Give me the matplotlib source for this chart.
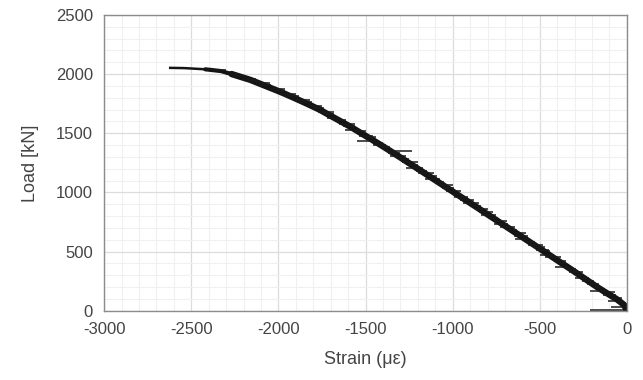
import matplotlib
matplotlib.use("Agg")
import matplotlib.pyplot as plt
from matplotlib.ticker import MultipleLocator

plt.rcParams['font.family'] = ['Liberation Sans', 'DejaVu Sans']
plt.rcParams['axes.unicode_minus'] = False

# main trend of the measured curve (strain in microstrain, load in kN)
trend_strain = [0, -16, -60, -116, -170, -220, -270, -320, -372, -423, -474, -525,
                -577, -629, -681, -733, -785, -836, -888, -940, -992, -1044, -1096,
                -1148, -1200, -1253, -1305, -1358, -1412, -1468, -1525, -1581, -1642,
                -1704, -1765, -1837, -1912, -1990, -2075, -2160, -2269, -2330, -2420,
                -2540, -2621]
trend_load = [0, 50, 100, 150, 200, 250, 300, 350, 400, 450, 500, 550,
              600, 650, 700, 750, 800, 850, 900, 950, 1000, 1050, 1100,
              1150, 1200, 1250, 1300, 1350, 1400, 1450, 1500, 1550, 1600,
              1650, 1700, 1750, 1800, 1850, 1900, 1950, 2000, 2025, 2040,
              2050, 2052]

# scatter of the readings around the trend (horizontal dashes)
spike_load = [5, 30, 80, 130, 170, 230, 280, 330, 370, 420, 470, 510, 560, 610, 660,
              710, 760, 810, 860, 910, 960, 1010, 1060, 1110, 1160, 1210, 1260, 1310,
              1350, 1400, 1438, 1480, 1530, 1580, 1630, 1680, 1730, 1780, 1830, 1870,
              1920, 1960, 2000, 2030,
              55, 105, 155, 205, 255, 305, 355, 405, 455, 505, 535, 585, 635, 685,
              735, 785, 835, 885, 935, 985, 1035, 1085, 1135, 1185, 1235, 1285, 1335,
              1385, 1415, 1465, 1515, 1565, 1615, 1665, 1715, 1765, 1815, 1860, 1910,
              1945, 1985]
spike_left = [-212, -90, -110, -140, -210, -230, -300, -330, -410, -420, -500, -520,
              -570, -640, -650, -730, -760, -840, -870, -940, -990, -1040, -1080,
              -1160, -1200, -1270, -1290, -1360, -1380, -1460, -1550, -1540, -1620,
              -1650, -1720, -1770, -1830, -1900, -1990, -2050, -2130, -2210, -2300,
              -2380,
              -45, -90, -140, -190, -260, -300, -350, -390, -470, -500, -540, -580,
              -650, -690, -760, -790, -850, -900, -960, -1000, -1060, -1100, -1150,
              -1210, -1250, -1310, -1370, -1410, -1450, -1500, -1560, -1630, -1680,
              -1740, -1800, -1880, -1960, -2030, -2110, -2180, -2260]
spike_right = [0, -5, -20, -60, -120, -160, -220, -250, -330, -350, -420, -450,
               -480, -560, -580, -640, -690, -750, -800, -850, -910, -950, -1000,
               -1070, -1110, -1170, -1200, -1270, -1235, -1380, -1440, -1460, -1530,
               -1560, -1650, -1680, -1750, -1820, -1900, -1960, -2050, -2130, -2230,
               -2300,
               10, -30, -70, -150, -190, -250, -290, -350, -380, -440, -470, -530,
               -570, -630, -680, -740, -770, -840, -880, -950, -990, -1050, -1090,
               -1150, -1200, -1250, -1300, -1360, -1400, -1440, -1500, -1560, -1610,
               -1680, -1740, -1810, -1880, -1960, -2040, -2110, -2190]

fig = plt.figure(figsize=(6.43, 3.80), dpi=100)
ax = fig.add_axes([0.162, 0.182, 0.813, 0.779])

# thick band up to the knee, tapering tail at the top
ax.plot(trend_strain[:-4], trend_load[:-4], color='#141414', lw=4.6, solid_capstyle='round')
ax.plot(trend_strain[-6:-2], trend_load[-6:-2], color='#141414', lw=3.0, solid_capstyle='round')
ax.plot(trend_strain[-4:], trend_load[-4:], color='#141414', lw=1.8)
ax.hlines(spike_load, spike_left, spike_right, color='#1a1a1a', lw=1.1)

ax.set_xlim(-3000, 0)
ax.set_ylim(0, 2500)
ax.xaxis.set_major_locator(MultipleLocator(500))
ax.xaxis.set_minor_locator(MultipleLocator(100))
ax.yaxis.set_major_locator(MultipleLocator(500))
ax.yaxis.set_minor_locator(MultipleLocator(100))
ax.grid(which='major', color='#dcdcdc', lw=0.9)
ax.grid(which='minor', color='#f0f0f0', lw=0.8)
ax.set_axisbelow(True)
ax.tick_params(which='both', length=0, labelsize=12, colors='#444444', pad=8)
for s in ax.spines.values():
    s.set_color('#8c8c8c')
    s.set_linewidth(1.0)

ax.set_xlabel('Strain (με)', fontsize=13, color='#444444', labelpad=10)
ax.set_ylabel('Load [kN]', fontsize=13, color='#444444', labelpad=12)

fig.savefig('out.png', dpi=100)
